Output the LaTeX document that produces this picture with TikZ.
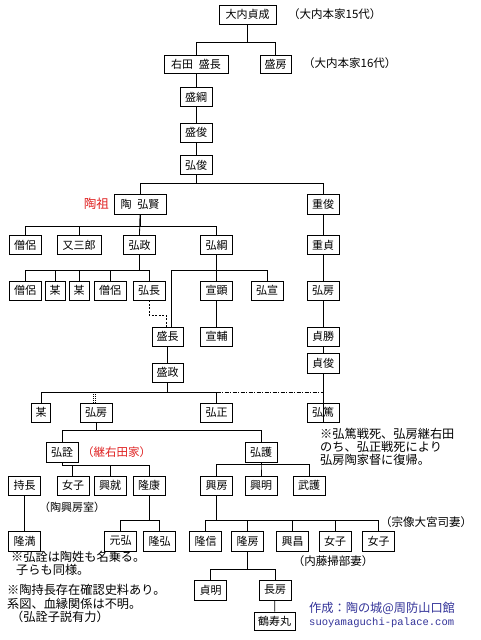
\documentclass[tikz,border=0pt]{standalone}
\usepackage{fontspec}
\newfontfamily\jp{Noto Sans CJK JP}
\newfontfamily\monofam{Liberation Mono}
\definecolor{tred}{HTML}{E02020}
\definecolor{tblue}{HTML}{333399}
\begin{document}
\begin{tikzpicture}[x=1pt,y=-1pt,
  pb/.style={draw, line width=0.8pt, fill=white, minimum width=32pt, minimum height=19pt, inner sep=0pt, font=\jp\fontsize{11}{11}\selectfont},
  ln/.style={line width=0.8pt},
  nt/.style={font=\jp\fontsize{11.5}{12}\selectfont, inner sep=0pt, anchor=west},
  nb/.style={font=\jp\fontsize{12.2}{13}\selectfont, inner sep=0pt, anchor=west},
]
\useasboundingbox[fill=white] (0,0) rectangle (480,640);
% ---- boxes
\node[pb, minimum width=57pt] (a1) at (247.5,14.5) {大内貞成};
\node[nt] (na1) at (288,14) {（大内本家15代）};
\node[pb, minimum width=64pt, minimum height=18pt] (b1) at (196,64) {右田\hspace{6pt}盛長};
\node[pb, minimum width=31pt, minimum height=18pt] (b2) at (275.5,64) {盛房};
\node[nt] (nb2) at (303,63) {（大内本家16代）};
\node[pb] (c1) at (196,97) {盛綱};
\node[pb] (c2) at (196,132.5) {盛俊};
\node[pb] (c3) at (196,165) {弘俊};
\node[pb, minimum width=52pt, minimum height=20pt] (d1) at (140,204) {陶\hspace{6pt}弘賢};
\node[font=\jp\fontsize{12.5}{13}\selectfont, text=tred, inner sep=0pt, anchor=east] (nd1) at (109,204) {陶祖};
\node[pb, minimum height=20pt] (d2) at (323,204) {重俊};
% row 7
\node[pb] (e1) at (25,245) {僧侶};
\node[pb, minimum width=44pt] (e2) at (79,245) {又三郎};
\node[pb] (e3) at (139.5,245) {弘政};
\node[pb] (e4) at (216.5,245) {弘綱};
\node[pb] (e5) at (323,245) {重貞};
% row 8
\node[pb] (f1) at (25,290.5) {僧侶};
\node[pb, minimum width=20pt] (f2) at (55,290.5) {某};
\node[pb, minimum width=20pt] (f3) at (79,290.5) {某};
\node[pb] (f4) at (110,290.5) {僧侶};
\node[pb] (f5) at (149,290.5) {弘長};
\node[pb] (f6) at (216.5,290.5) {宣顕};
\node[pb] (f7) at (267,290.5) {弘宣};
\node[pb] (f8) at (323,290.5) {弘房};
% row 9-10
\node[pb, minimum width=31pt] (g1) at (167.5,336.5) {盛長};
\node[pb] (g2) at (216.5,336.5) {宣輔};
\node[pb] (g3) at (323,336.5) {貞勝};
\node[pb, minimum width=31pt] (h1) at (167.5,372.5) {盛政};
\node[pb, minimum height=20pt] (h2) at (323,363) {貞俊};
% row 11
\node[pb, minimum width=19pt] (i1) at (41,412.5) {某};
\node[pb] (i2) at (96,412.5) {弘房};
\node[pb] (i3) at (216.5,412.5) {弘正};
\node[pb] (i4) at (323,412.5) {弘篤};
% row 12
\node[pb, minimum height=20pt] (j1) at (62,452) {弘詮};
\node[font=\jp\fontsize{11.5}{12}\selectfont, text=tred, inner sep=0pt, anchor=west] (nj1) at (82,452) {（継右田家）};
\node[pb, minimum height=20pt] (j2) at (261,452) {弘護};
% row 13
\node[pb] (k1) at (24.5,485.5) {持長};
\node[pb] (k2) at (73,485.5) {女子};
\node[pb] (k3) at (110,485.5) {興就};
\node[pb] (k4) at (149,485.5) {隆康};
\node[pb] (k5) at (216.5,485.5) {興房};
\node[pb] (k6) at (261,485.5) {興明};
\node[pb] (k7) at (309,485.5) {武護};
\node[font=\jp\fontsize{11}{12}\selectfont, inner sep=0pt] (nk2) at (72,507) {（陶興房室）};
% row 14
\node[pb, minimum height=20pt] (l1) at (24.5,541) {隆満};
\node[pb, minimum height=20pt] (l2) at (120.5,541) {元弘};
\node[pb, minimum height=20pt] (l3) at (159.5,541) {隆弘};
\node[pb, minimum height=20pt] (l4) at (205.5,541) {隆信};
\node[pb, minimum height=20pt] (l5) at (247.5,541) {隆房};
\node[pb, minimum height=20pt] (l6) at (292.5,541) {興昌};
\node[pb, minimum height=20pt] (l7) at (335,541) {女子};
\node[pb, minimum height=20pt] (l8) at (378.5,541) {女子};
\node[nt] (nl8) at (380,522) {（宗像大宮司妻）};
\node[font=\jp\fontsize{11.5}{12}\selectfont, inner sep=0pt] (nl7) at (333,561) {（内藤掃部妻）};
% row 15-16
\node[pb, minimum height=20pt] (m1) at (210.5,590) {貞明};
\node[pb, minimum height=20pt] (m2) at (275,590) {長房};
\node[pb, minimum width=41pt, minimum height=18pt] (o1) at (274.5,621) {鶴寿丸};
% ---- notes
\node[nb] (r1) at (320,434) {※弘篤戦死、弘房継右田};
\node[nb] (r2) at (320,447) {のち、弘正戦死により};
\node[nb] (r3) at (320,460) {弘房陶家督に復帰。};
\node[nb] (s1) at (11,557) {※弘詮は陶姓も名乗る。};
\node[nb] (s2) at (16,570) {子らも同様。};
\node[nb] (t1) at (7,590) {※陶持長存在確認史料あり。};
\node[nb] (t2) at (7,604) {系図、血縁関係は不明。};
\node[nb] (t3) at (11,617) {（弘詮子説有力）};
\node[nb, text=tblue] (u1) at (309,608.5) {作成：陶の城@周防山口館};
\node[font=\monofam\fontsize{10.5}{11}\selectfont, text=tblue, inner sep=0pt, anchor=west] (u2) at (309,622.5) {suoyamaguchi-palace.com};
% ---- connectors
\draw[ln] (a1.south) |- (b1.north |- 0,42) -- (b1.north);
\draw[ln] (a1.south) |- (b2.north |- 0,42) -- (b2.north);
\draw[ln] (b1) -- (c1);
\draw[ln] (c1) -- (c2);
\draw[ln] (c2) -- (c3);
\draw[ln] (c3.south) |- (d1.north |- 0,183) -- (d1.north);
\draw[ln] (c3.south) |- (d2.north |- 0,183) -- (d2.north);
\draw[ln] (d1.south) |- (e1.north |- 0,226) -- (e1.north);
\draw[ln] (d1.south) |- (e2.north |- 0,226) -- (e2.north);
\draw[ln] (d1.south) -- (e3.north);
\draw[ln] (d1.south) |- (e4.north |- 0,226) -- (e4.north);
\draw[ln] (d2) -- (e5);
\draw[ln] (e5) -- (f8);
\draw[ln] (f8) -- (g3);
\draw[ln] (g3) -- (h2);
\draw[ln] (h2.south) -- (i4.south);
\foreach \c in {f1,f2,f3,f4,f5}
  \draw[ln] (e3.south) |- (\c.north |- 0,270) -- (\c.north);
\draw[ln] (e4.south) |- (f6.north |- 0,270) -- (f6.north);
\draw[ln] (e4.south) |- (f7.north |- 0,270) -- (f7.north);
\draw[ln] (e4.south) |- (171,270) -- (g1.north -| 171,0);
\draw[ln, dash pattern=on 2pt off 1.5pt] (f5.south) |- (166,315) -- (g1.north -| 166,0);
\draw[ln] (f6) -- (g2);
\draw[ln] (g1) -- (h1);
\draw[ln] (h1.south) -- (h1.south |- 0,392);
\draw[ln] (i1.north |- 0,392) -- (i3.north |- 0,392);
\draw[ln] (i1.north |- 0,392) -- (i1.north);
\draw[ln] (i3.north |- 0,392) -- (i3.north);
\draw[ln, dash pattern=on 4pt off 1.5pt on 1pt off 1.5pt] (i3.north |- 0,392) -- (i4.north |- 0,392);
\draw[line width=0.8pt, dash pattern=on 1pt off 1pt] ([xshift=-3pt]i2.north) -- ([xshift=-3pt]i2.north |- 0,392);
\draw[line width=0.8pt, dash pattern=on 1pt off 1pt] ([xshift=-0.5pt]i2.north) -- ([xshift=-0.5pt]i2.north |- 0,392);
\draw[ln] (i2.south) |- (j1.north |- 0,430) -- (j1.north);
\draw[ln] (i2.south) |- (j2.north |- 0,430) -- (j2.north);
\draw[ln] (j1.south) |- (k4.north |- 0,465) -- (k4.north);
\draw[ln] ([xshift=-1pt]k2.north |- 0,465) -- ([xshift=-1pt]k2.north);
\draw[ln] (k3.north |- 0,465) -- (k3.north);
\foreach \c in {k5,k6,k7}
  \draw[ln] (j2.south) |- (\c.north |- 0,464) -- (\c.north);
\draw[ln] (k1) -- (l1);
\draw[ln] (k4.south) |- (l2.north |- 0,520) -- (l2.north);
\draw[ln] (k4.south) |- (l3.north |- 0,520) -- (l3.north);
\foreach \c in {l4,l5,l6,l7,l8}
  \draw[ln] (k5.south) |- (\c.north |- 0,520) -- (\c.north);
\draw[ln] (l5.south) |- (m1.north |- 0,569) -- (m1.north);
\draw[ln] (l5.south) |- (m2.north |- 0,569) -- (m2.north);
\draw[ln] (m2) -- (o1);
\end{tikzpicture}
\end{document}
